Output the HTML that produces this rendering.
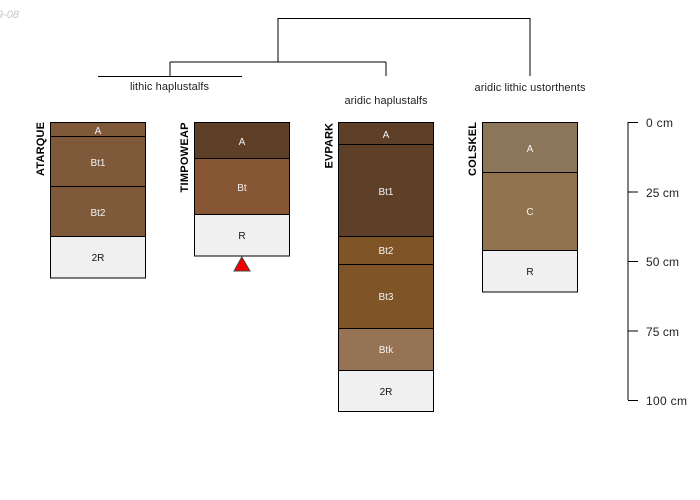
<!DOCTYPE html>
<html>
<head>
<meta charset="utf-8">
<style>
html,body{margin:0;padding:0;background:#fff;width:700px;height:500px;overflow:hidden}
svg{display:block}
text{font-family:"Liberation Sans",sans-serif;font-size:10px}
.w{fill:#f2f2f2;text-anchor:middle}
.k{fill:#111;text-anchor:middle}
.n{fill:#222;text-anchor:middle;font-size:11px}
.v{fill:#000;font-weight:bold;font-size:11px;text-anchor:end}
.s{fill:#222;font-size:12px}
rect{stroke:#000;stroke-width:1}
</style>
</head>
<body>
<svg width="700" height="500" viewBox="0 0 700 500" xmlns="http://www.w3.org/2000/svg">
<text x="19" y="18" text-anchor="end" style="font-style:italic;font-size:11px;fill:#c8c8c8">2019-08</text>

<!-- dendrogram -->
<g fill="none" stroke="#000" stroke-width="1">
<path d="M278 18.5H530"/>
<path d="M278 18V62M530 18V76"/>
<path d="M170 62H386"/>
<path d="M170 62V76M386 62V76"/>
<path d="M98 76.5H242"/>
</g>
<text class="n" x="169.5" y="90" textLength="79" lengthAdjust="spacing">lithic haplustalfs</text>
<text class="n" x="386" y="104" textLength="83" lengthAdjust="spacing">aridic haplustalfs</text>
<text class="n" x="530" y="91" textLength="111" lengthAdjust="spacing">aridic lithic ustorthents</text>

<!-- ATARQUE -->
<rect x="50.5" y="122.5" width="95" height="14" fill="#7e5a3b"/>
<rect x="50.5" y="136.5" width="95" height="50" fill="#7e5a3b"/>
<rect x="50.5" y="186.5" width="95" height="50" fill="#7e5a3b"/>
<rect x="50.5" y="236.5" width="95" height="41.5" fill="#f0f0f0"/>
<text class="w" x="98" y="134">A</text>
<text class="w" x="98" y="166">Bt1</text>
<text class="w" x="98" y="216">Bt2</text>
<text class="k" x="98" y="261">2R</text>
<text class="v" transform="translate(44 122) rotate(-90)" textLength="54" lengthAdjust="spacing">ATARQUE</text>

<!-- TIMPOWEAP -->
<rect x="194.5" y="122.5" width="95" height="36" fill="#5e3f28"/>
<rect x="194.5" y="158.5" width="95" height="56" fill="#875633"/>
<rect x="194.5" y="214.5" width="95" height="41.5" fill="#f0f0f0"/>
<text class="w" x="242" y="145">A</text>
<text class="w" x="242" y="191">Bt</text>
<text class="k" x="242" y="239">R</text>
<text class="v" transform="translate(188 122.5) rotate(-90)" textLength="70" lengthAdjust="spacing">TIMPOWEAP</text>
<polygon points="241.8,257 234,271 250,271" fill="#f00000" stroke="#444" stroke-width="1"/>

<!-- EVPARK -->
<rect x="338.5" y="122.5" width="95" height="22" fill="#5e3f28"/>
<rect x="338.5" y="144.5" width="95" height="92" fill="#5e3f28"/>
<rect x="338.5" y="236.5" width="95" height="28" fill="#7f5426"/>
<rect x="338.5" y="264.5" width="95" height="64" fill="#7f5426"/>
<rect x="338.5" y="328.5" width="95" height="42" fill="#967354"/>
<rect x="338.5" y="370.5" width="95" height="41" fill="#f0f0f0"/>
<text class="w" x="386" y="138">A</text>
<text class="w" x="386" y="195">Bt1</text>
<text class="w" x="386" y="254">Bt2</text>
<text class="w" x="386" y="300">Bt3</text>
<text class="w" x="386" y="353">Btk</text>
<text class="k" x="386" y="395">2R</text>
<text class="v" transform="translate(332.5 123) rotate(-90)" textLength="45.5" lengthAdjust="spacing">EVPARK</text>

<!-- COLSKEL -->
<rect x="482.5" y="122.5" width="95" height="50" fill="#8c765a"/>
<rect x="482.5" y="172.5" width="95" height="78" fill="#91744f"/>
<rect x="482.5" y="250.5" width="95" height="41.5" fill="#f0f0f0"/>
<text class="w" x="530" y="152">A</text>
<text class="w" x="530" y="215">C</text>
<text class="k" x="530" y="275">R</text>
<text class="v" transform="translate(476 122) rotate(-90)" textLength="54" lengthAdjust="spacing">COLSKEL</text>

<!-- scale -->
<g fill="none" stroke="#000" stroke-width="1">
<path d="M628 122V400"/>
<path d="M628 122.5H638M628 192H638M628 261.5H638M628 331H638M628 400.5H638"/>
</g>
<text class="s" x="646" y="127" textLength="27" lengthAdjust="spacing">0 cm</text>
<text class="s" x="646" y="197" textLength="33" lengthAdjust="spacing">25 cm</text>
<text class="s" x="646" y="266" textLength="33" lengthAdjust="spacing">50 cm</text>
<text class="s" x="646" y="336" textLength="33" lengthAdjust="spacing">75 cm</text>
<text class="s" x="646" y="405" textLength="41" lengthAdjust="spacing">100 cm</text>
</svg>
</body>
</html>
